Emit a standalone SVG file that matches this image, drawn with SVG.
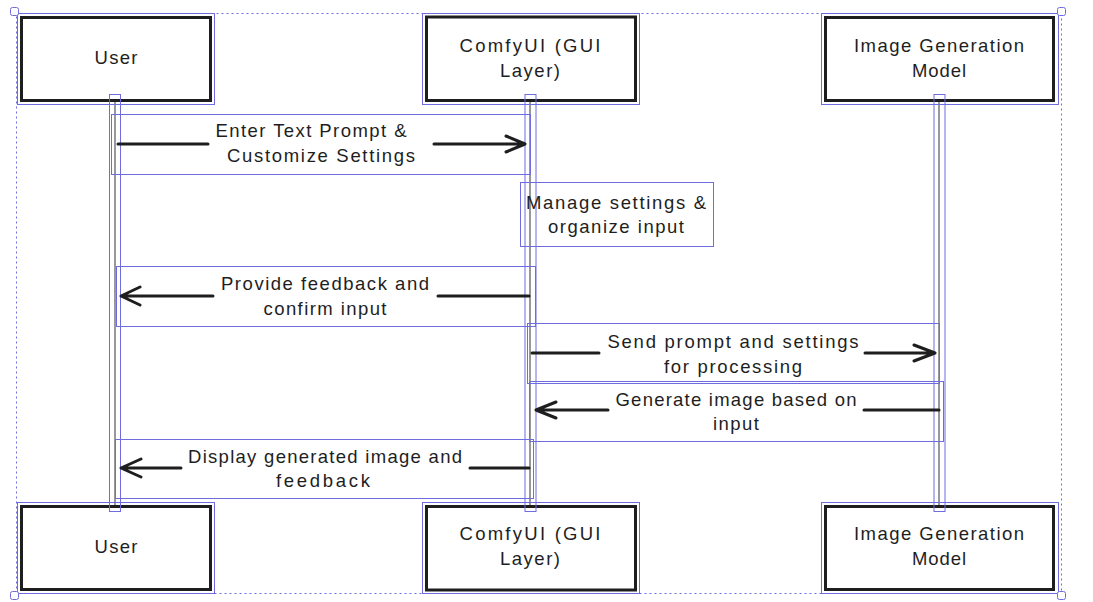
<svg xmlns="http://www.w3.org/2000/svg" width="1093" height="602" viewBox="0 0 1093 602">
<style>
.sel{fill:none;stroke:#6f6ce0;stroke-width:1}
.box{fill:#fff;stroke:#1e1e1e;stroke-width:3}
.life{stroke:#999;stroke-width:2;fill:none}
.ln{stroke:#1e1e1e;stroke-width:3;fill:none;stroke-linecap:round;stroke-linejoin:round}
.t{font-family:"Liberation Sans",Arial,sans-serif;font-size:18.5px;fill:#1e1e1e;text-anchor:middle}
.h{fill:#fff;stroke:#6f6ce0;stroke-width:1}
</style>
<rect x="16.5" y="13.5" width="1045" height="580" fill="none" stroke="#6f6ce0" stroke-width="1" stroke-dasharray="2 3"/>
<g id="lifeline-lines">
<line class="life" x1="115" y1="95" x2="115" y2="511"/>
<line class="life" x1="530" y1="95" x2="530" y2="511"/>
<line class="life" x1="939" y1="95" x2="939" y2="511"/>
</g>
<g id="user-top"><rect class="sel" x="17.5" y="13.5" width="197" height="91"/><rect class="box" x="21.5" y="17.5" width="189" height="83"/><text class="t" x="116" y="64" textLength="43">User</text></g>
<g id="comfy-top"><rect class="sel" x="422.5" y="13.5" width="217" height="91"/><rect class="box" x="426.5" y="17" width="209" height="83.5"/><text class="t" x="530" y="52" textLength="141">ComfyUI (GUI</text><text class="t" x="530" y="77" textLength="60">Layer)</text></g>
<g id="model-top"><rect class="sel" x="821.5" y="13.5" width="237" height="91"/><rect class="box" x="825.5" y="17.5" width="228" height="83"/><text class="t" x="939" y="52" textLength="170">Image Generation</text><text class="t" x="939" y="77" textLength="54">Model</text></g>
<g id="user-bottom"><rect class="sel" x="17.5" y="502.5" width="197" height="91"/><rect class="box" x="21.5" y="506.5" width="189" height="83"/><text class="t" x="116" y="553" textLength="43">User</text></g>
<g id="comfy-bottom"><rect class="sel" x="422.5" y="502.5" width="217" height="91"/><rect class="box" x="426.5" y="506.5" width="209" height="83.5"/><text class="t" x="530" y="540" textLength="141">ComfyUI (GUI</text><text class="t" x="530" y="565" textLength="60">Layer)</text></g>
<g id="model-bottom"><rect class="sel" x="821.5" y="502.5" width="237" height="91"/><rect class="box" x="825.5" y="506.5" width="228" height="83"/><text class="t" x="939" y="540" textLength="170">Image Generation</text><text class="t" x="939" y="565" textLength="54">Model</text></g>
<g id="lifeline-selection">
<rect class="sel" x="109.5" y="94.5" width="11" height="417"/>
<rect class="sel" x="525" y="94.5" width="11" height="417"/>
<rect class="sel" x="934" y="94.5" width="11" height="417"/>
</g>
<g id="note-manage"><rect class="sel" x="520.5" y="182.5" width="193" height="64"/><text class="t" x="616" y="209" textLength="180">Manage settings &amp;</text><text class="t" x="616" y="233" textLength="136">organize input</text></g>
<g id="connectors">
<g id="m1"><rect class="sel" x="111.5" y="114.5" width="419" height="60"/>
<path class="ln" d="M118 144H208M434 144H525M506 136L525 144L506 152"/>
<text class="t" x="311" y="137" textLength="191">Enter Text Prompt &amp;</text><text class="t" x="321" y="162" textLength="188">Customize Settings</text></g>
<g id="m3"><rect class="sel" x="116.5" y="266.5" width="419" height="60"/>
<path class="ln" d="M529 296H438M213 296H121M140 287L121 296L140 305"/>
<text class="t" x="325" y="290" textLength="208">Provide feedback and</text><text class="t" x="325" y="315" textLength="123">confirm input</text></g>
<g id="m4"><rect class="sel" x="527.5" y="323.5" width="412" height="60"/>
<path class="ln" d="M532 353H599M865 353H935M914 345L935 353L914 361"/>
<text class="t" x="733" y="348" textLength="251">Send prompt and settings</text><text class="t" x="733" y="373" textLength="138">for processing</text></g>
<g id="m5"><rect class="sel" x="529.5" y="381.5" width="414" height="60"/>
<path class="ln" d="M939 410H864M608 410H536M556 402L536 410L556 418"/>
<text class="t" x="736" y="406" textLength="241">Generate image based on</text><text class="t" x="736" y="430" textLength="46">input</text></g>
<g id="m6"><rect class="sel" x="115.5" y="439.5" width="418" height="59"/>
<path class="ln" d="M529 468H470M181 468H121M141 459L121 468L141 477"/>
<text class="t" x="325" y="463" textLength="274">Display generated image and</text><text class="t" x="323" y="487" textLength="94">feedback</text></g>
</g>
<rect class="h" x="10.5" y="7.5" width="8" height="8" rx="2"/>
<rect class="h" x="1057.5" y="7.5" width="8" height="8" rx="2"/>
<rect class="h" x="10.5" y="591.5" width="8" height="8" rx="2"/>
<rect class="h" x="1057.5" y="591.5" width="8" height="8" rx="2"/>
</svg>
